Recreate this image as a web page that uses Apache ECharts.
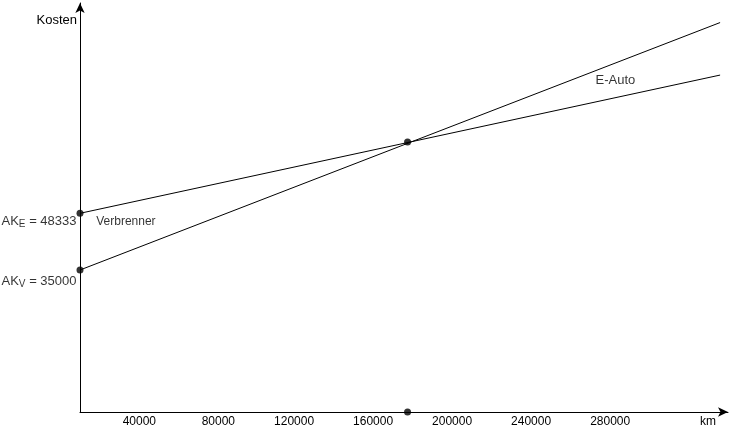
<!DOCTYPE html>
<html>
<head>
<meta charset="utf-8">
<script src="https://cdn.jsdelivr.net/npm/echarts@6/dist/echarts.min.js"></script>
<style>html,body{margin:0;padding:0;background:#fff}#c{width:731px;height:429px}</style>
</head>
<body>
<div id="c"></div>
<script>
// ---- data ----
var seriesNames = ['Verbrenner', 'E-Auto'];
var kmValues = [0, 324000];
var verbrennerCosts = [35000, 93200];
var eAutoCosts = [48333, 80850];
var breakEven = [165800, 65100];
var xTickLabels = ['40000', '80000', '120000', '160000', '200000', '240000', '280000'];
var akLabels = ['AK{s|E}{a| = 48333}', 'AK{s|V}{a| = 35000}'];

// ---- layout ----
var X_MIN = 0, X_MAX = 328000, Y_MIN = 1600, Y_MAX = 97800;
var FONT = 'Liberation Sans, Arial, sans-serif';
var black = '#000';

var chart = echarts.init(document.getElementById('c'), null, {renderer: 'canvas'});

function pairs(xs, ys) { return xs.map(function (x, i) { return [x, ys[i]]; }); }

var richAK = {
  a: {fontFamily: FONT, fontSize: 13, color: black},
  s: {fontFamily: FONT, fontSize: 10, color: black, padding: [6, 0, 0, 0]}
};

var option = {
  animation: false,
  backgroundColor: '#fff',
  textStyle: {fontFamily: FONT, fontSize: 12, color: black},
  grid: {left: 80, right: 3, top: 3, bottom: 17, containLabel: false},
  xAxis: {
    type: 'value', min: X_MIN, max: X_MAX, interval: 40000,
    name: 'km', nameLocation: 'end', nameGap: -12,
    nameTextStyle: {fontFamily: FONT, fontSize: 12, color: black, align: 'right', verticalAlign: 'top', padding: [4, 0, 0, 0]},
    axisLine: {show: true, onZero: false, symbol: ['none', 'arrow'], symbolSize: [7, 10], lineStyle: {color: black, width: 1}},
    axisTick: {show: false},
    splitLine: {show: false},
    axisLabel: {
      show: true, color: black, fontFamily: FONT, fontSize: 12, margin: 4,
      align: 'right', padding: [0, 3, 0, 0],
      showMinLabel: false, showMaxLabel: false,
      formatter: function (v) { var i = xTickLabels.indexOf(String(v)); return i >= 0 ? xTickLabels[i] : ''; }
    }
  },
  yAxis: {
    type: 'value', min: Y_MIN, max: Y_MAX,
    name: 'Kosten', nameLocation: 'end', nameGap: -17,
    nameTextStyle: {fontFamily: FONT, fontSize: 13, color: black, align: 'right', verticalAlign: 'middle', padding: [0, 3, 0, 0]},
    axisLine: {show: true, onZero: false, symbol: ['none', 'arrow'], symbolSize: [7, 10], lineStyle: {color: black, width: 1}},
    axisTick: {show: false},
    splitLine: {show: false},
    axisLabel: {show: false}
  },
  series: [
    {
      name: seriesNames[0], type: 'line', data: pairs(kmValues, verbrennerCosts),
      showSymbol: false, symbol: 'none', lineStyle: {color: black, width: 1}, silent: true
    },
    {
      name: seriesNames[1], type: 'line', data: pairs(kmValues, eAutoCosts),
      showSymbol: false, symbol: 'none', lineStyle: {color: black, width: 1}, silent: true
    },
    {
      name: 'dots', type: 'scatter', symbol: 'circle', symbolSize: 7, clip: false,
      itemStyle: {color: black},
      data: [
        {value: [kmValues[0], eAutoCosts[0]], label: {show: true, position: 'left', distance: 0, offset: [0, 8],
          formatter: akLabels[0], rich: richAK, fontFamily: FONT, fontSize: 13, color: black}},
        {value: [kmValues[0], verbrennerCosts[0]], label: {show: true, position: 'left', distance: 0, offset: [0, 11],
          formatter: akLabels[1], rich: richAK, fontFamily: FONT, fontSize: 13, color: black}},
        {value: breakEven},
        {value: [breakEven[0], Y_MIN]}
      ],
      z: 5
    },
    {
      name: 'annotations', type: 'scatter', symbol: 'circle', symbolSize: 1, clip: false,
      itemStyle: {color: 'rgba(0,0,0,0)'},
      label: {show: true, position: [0, 0], align: 'left', verticalAlign: 'middle', fontFamily: FONT, fontSize: 12, color: black,
        formatter: function (p) { return p.name; }},
      data: [
        {name: seriesNames[0], value: [8450, 46345]},
        {name: seriesNames[1], value: [261190, 79500], label: {fontSize: 13}}
      ]
    }
  ]
};
chart.setOption(option);
</script>
</body>
</html>
